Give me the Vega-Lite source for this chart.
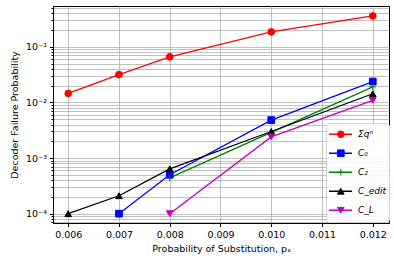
{
  "$schema": "https://vega.github.io/schema/vega-lite/v6.json",
  "width": 336,
  "height": 217,
  "autosize": {"type": "none"},
  "padding": {"left": 53, "top": 6, "right": 5, "bottom": 43},
  "background": "white",
  "config": {
    "font": "DejaVu Sans",
    "view": {"stroke": "black", "strokeWidth": 1},
    "axis": {
      "labelFont": "DejaVu Sans", "labelFontSize": 9.5, "labelColor": "black",
      "titleFont": "DejaVu Sans", "titleFontSize": 9.5, "titleFontWeight": "normal", "titleColor": "black",
      "domainColor": "black", "tickColor": "black", "gridColor": "#b0b0b0", "gridWidth": 0.8,
      "labelOverlap": false, "labelFlush": false
    }
  },
  "data": {"values": [
    {"series": "Σqⁿ", "marker": "Σqⁿ", "p": 0.006, "fail": 0.0145},
    {"series": "Σqⁿ", "marker": "Σqⁿ", "p": 0.007, "fail": 0.0316},
    {"series": "Σqⁿ", "marker": "Σqⁿ", "p": 0.008, "fail": 0.066},
    {"series": "Σqⁿ", "marker": "Σqⁿ", "p": 0.010, "fail": 0.185},
    {"series": "Σqⁿ", "marker": "Σqⁿ", "p": 0.012, "fail": 0.358},
    {"series": "C₀", "marker": "C₀", "p": 0.007, "fail": 0.0001},
    {"series": "C₀", "marker": "C₀", "p": 0.008, "fail": 0.0005},
    {"series": "C₀", "marker": "C₀", "p": 0.010, "fail": 0.0048},
    {"series": "C₀", "marker": "C₀", "p": 0.012, "fail": 0.0237},
    {"series": "C₂", "marker": "C₂", "p": 0.008, "fail": 0.00044},
    {"series": "C₂", "marker": "C₂", "p": 0.010, "fail": 0.0029},
    {"series": "C₂", "marker": "C₂", "p": 0.012, "fail": 0.019},
    {"series": "C_edit", "marker": "C_edit", "p": 0.006, "fail": 0.0001},
    {"series": "C_edit", "marker": "C_edit", "p": 0.007, "fail": 0.00021},
    {"series": "C_edit", "marker": "C_edit", "p": 0.008, "fail": 0.00064},
    {"series": "C_edit", "marker": "C_edit", "p": 0.010, "fail": 0.003},
    {"series": "C_edit", "marker": "C_edit", "p": 0.012, "fail": 0.0143},
    {"series": "C_L", "marker": "C_L", "p": 0.008, "fail": 0.0001},
    {"series": "C_L", "marker": "C_L", "p": 0.010, "fail": 0.0024},
    {"series": "C_L", "marker": "C_L", "p": 0.012, "fail": 0.0109}
  ]},
  "encoding": {
    "x": {
      "field": "p", "type": "quantitative",
      "scale": {"domain": [0.0057, 0.01232], "nice": false, "zero": false},
      "axis": {"values": [0.006, 0.007, 0.008, 0.009, 0.010, 0.011, 0.012], "format": ".3f",
               "title": "Probability of Substitution, pₛ", "tickSize": 3.5, "labelPadding": 3, "titlePadding": 4}
    },
    "y": {
      "field": "fail", "type": "quantitative",
      "scale": {"type": "log", "domain": [0.000068, 0.54], "nice": false},
      "axis": {
        "values": [0.00007, 0.00008, 0.00009, 0.0001, 0.0002, 0.0003, 0.0004, 0.0005, 0.0006, 0.0007, 0.0008, 0.0009,
                   0.001, 0.002, 0.003, 0.004, 0.005, 0.006, 0.007, 0.008, 0.009,
                   0.01, 0.02, 0.03, 0.04, 0.05, 0.06, 0.07, 0.08, 0.09,
                   0.1, 0.2, 0.3, 0.4, 0.5],
        "labelExpr": "abs(log(datum.value)/LN10 - round(log(datum.value)/LN10)) > 0.001 ? '' : round(log(datum.value)/LN10) == -1 ? '10⁻¹' : round(log(datum.value)/LN10) == -2 ? '10⁻²' : round(log(datum.value)/LN10) == -3 ? '10⁻³' : '10⁻⁴'",
        "tickSize": {"condition": {"test": "abs(log(datum.value)/LN10 - round(log(datum.value)/LN10)) < 0.001", "value": 3.5}, "value": 2},
        "labelPadding": 3,
        "title": "Decoder Failure Probability", "titlePadding": 6
      }
    }
  },
  "layer": [
    {
      "mark": {"type": "line", "strokeWidth": 1.3},
      "encoding": {
        "color": {
          "field": "series", "type": "nominal",
          "scale": {"domain": ["Σqⁿ", "C₀", "C₂", "C_edit", "C_L"], "range": ["#ff0000", "#0000ff", "#008000", "#000000", "#bf00bf"]},
          "legend": {"orient": "none", "legendX": 273, "legendY": 117, "title": null, "symbolType": "stroke",
                     "symbolSize": 529, "symbolStrokeWidth": 1.3, "clipHeight": 18.5, "rowPadding": 0, "padding": 2,
                     "labelOffset": 5, "fillColor": "rgba(255,255,255,0.85)", "strokeColor": "#d0d0d0", "cornerRadius": 3,
                     "labelFont": "DejaVu Sans", "labelFontSize": 9, "labelFontStyle": "italic", "labelColor": "black"}
        }
      }
    },
    {
      "mark": {"type": "point", "filled": true, "size": 45, "strokeWidth": 1, "opacity": 1},
      "encoding": {
        "color": {
          "field": "marker", "type": "nominal",
          "scale": {"domain": ["Σqⁿ", "C₀", "C₂", "C_edit", "C_L"], "range": ["#ff0000", "#0000ff", "#008000", "#000000", "#bf00bf"]},
          "legend": {"orient": "none", "legendX": 273, "legendY": 117, "title": null, "symbolSize": 45, "symbolStrokeWidth": 1,
                     "clipHeight": 18.5, "rowPadding": 0, "padding": 2, "symbolOffset": 8.3, "labelExpr": "''",
                     "labelFontSize": 9, "labelOffset": 5}
        },
        "stroke": {
          "field": "marker", "type": "nominal",
          "scale": {"domain": ["Σqⁿ", "C₀", "C₂", "C_edit", "C_L"], "range": ["#ff0000", "#0000ff", "#008000", "#000000", "#bf00bf"]},
          "legend": {"orient": "none", "legendX": 273, "legendY": 117, "title": null, "symbolSize": 45, "symbolStrokeWidth": 1,
                     "clipHeight": 18.5, "rowPadding": 0, "padding": 2, "symbolOffset": 8.3, "labelExpr": "''",
                     "labelFontSize": 9, "labelOffset": 5}
        },
        "shape": {
          "field": "marker", "type": "nominal",
          "scale": {"domain": ["Σqⁿ", "C₀", "C₂", "C_edit", "C_L"], "range": ["circle", "square", "M-1,0H1M0,-1V1", "triangle-up", "triangle-down"]},
          "legend": {"orient": "none", "legendX": 273, "legendY": 117, "title": null, "symbolSize": 45, "symbolStrokeWidth": 1,
                     "clipHeight": 18.5, "rowPadding": 0, "padding": 2, "symbolOffset": 8.3, "labelExpr": "''",
                     "labelFontSize": 9, "labelOffset": 5}
        }
      }
    }
  ],
  "resolve": {"scale": {"color": "independent", "shape": "independent", "stroke": "independent"}}
}
